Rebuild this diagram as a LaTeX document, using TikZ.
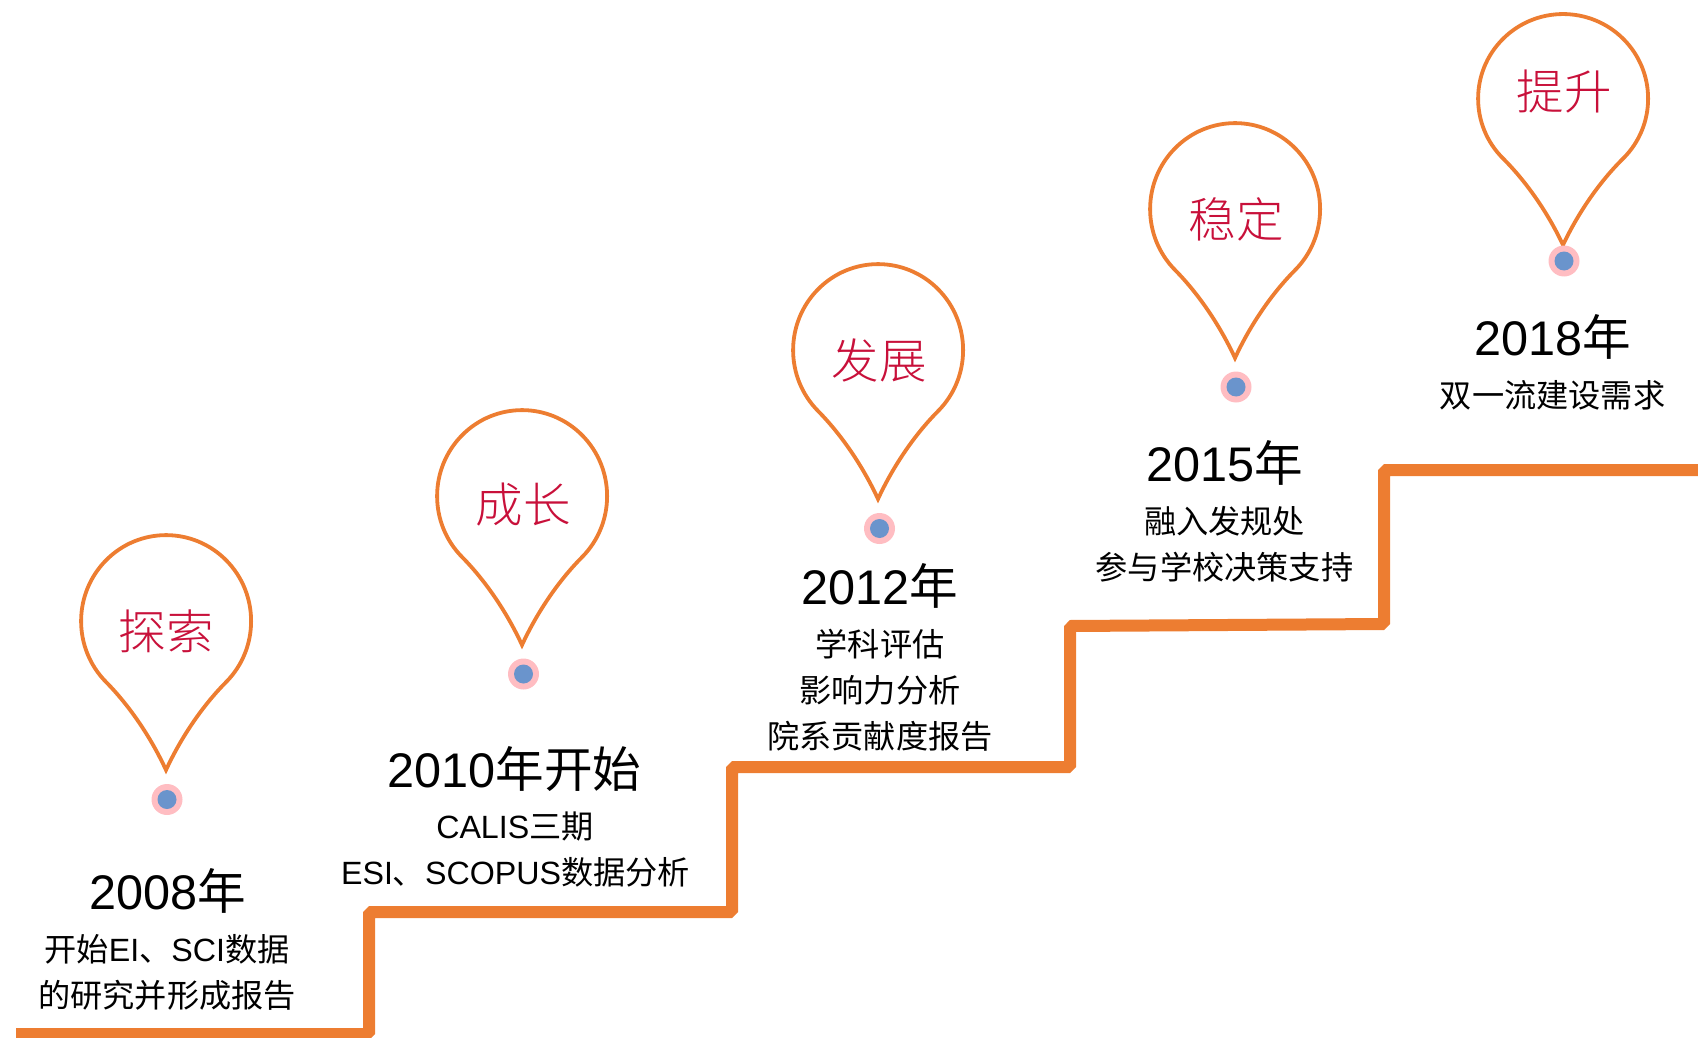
\documentclass[tikz,border=0pt]{standalone}
\usepackage{fontspec}
\setmainfont{Liberation Sans}
\newfontfamily\zhfont{Noto Sans CJK SC}
\newfontfamily\zhlight{Noto Sans CJK SC Light}
\newcommand{\zh}[1]{{\zhfont #1}}
\definecolor{stairorange}{HTML}{ED7D31}
\definecolor{labelred}{HTML}{C8103A}
\definecolor{dotblue}{HTML}{6A94CC}
\definecolor{dotpink}{HTML}{FFBDC2}
\tikzset{
  x=1pt,y=1pt,
  stair/.style={draw=stairorange,line width=12pt,line join=bevel},
  pinline/.style={draw=stairorange,line width=3.8pt,line join=miter},
  pinlabel/.style={inner sep=0pt,text=labelred,font=\fontsize{47.5}{47.5}\selectfont\zhlight},
  yearlabel/.style={inner sep=0pt,text=black,font=\fontsize{48.6}{48.6}\selectfont},
  sublabel/.style={inner sep=0pt,text=black,font=\fontsize{32.2}{32.2}\selectfont},
  dotouter/.style={circle,fill=dotpink,minimum size=31pt,inner sep=0pt},
  dotinner/.style={circle,fill=dotblue,minimum size=19pt,inner sep=0pt},
  pics/droppin/.style={code={
    \path[pinline] (0,0) .. controls (-14,30) and (-35,62) .. (-60,87)
      arc[start angle=225,end angle=-45,radius=85pt]
      .. controls (35,62) and (14,30) .. (0,0) -- cycle;
  }}
}
\begin{document}
\begin{tikzpicture}
\useasboundingbox (0,0) rectangle (1698,-1038);
% staircase
\draw[stair] (16,-1034) -- (369,-1034) -- (369,-912) -- (732,-912) -- (732,-767)
  -- (1070,-767) -- (1070,-626) -- (1384,-624) -- (1384,-470) -- (1698,-470);
% pins
\pic[yscale=1.012] at (166,-770) {droppin};
\pic[yscale=1.012] at (522,-645) {droppin};
\pic[yscale=1.012] at (878,-499) {droppin};
\pic[yscale=1.012] at (1235,-358) {droppin};
\pic[yscale=0.995] at (1563,-245) {droppin};
% dots
\node[dotouter] (o1) at (167,-799.5) {}; \node[dotinner] (i1) at (o1) {};
\node[dotouter] (o2) at (523.5,-674) {}; \node[dotinner] (i2) at (o2) {};
\node[dotouter] (o3) at (879.5,-528.5) {}; \node[dotinner] (i3) at (o3) {};
\node[dotouter] (o4) at (1236,-387) {}; \node[dotinner] (i4) at (o4) {};
\node[dotouter] (o5) at (1564,-261) {}; \node[dotinner] (i5) at (o5) {};
% pin labels
\node[pinlabel] (p1) at (166,-631) {探索};
\node[pinlabel] (p2) at (523,-505) {成长};
\node[pinlabel] (p3) at (879,-360) {发展};
\node[pinlabel] (p4) at (1236,-219) {稳定};
\node[pinlabel] (p5) at (1564,-92) {提升};
% years
\node[yearlabel] (y1) at (167.5,-890.5) {2008\zh{年}};
\node[yearlabel] (y2) at (514.5,-769) {2010\zh{年开始}};
\node[yearlabel] (y3) at (880,-586) {2012\zh{年}};
\node[yearlabel] (y4) at (1225,-463) {2015\zh{年}};
\node[yearlabel] (y5) at (1552.5,-337) {2018\zh{年}};
% sub texts
\node[sublabel] (s11) at (167,-949) {\zh{开始}EI\zh{、}SCI\zh{数据}};
\node[sublabel] (s12) at (167,-995) {\zh{的研究并形成报告}};
\node[sublabel] (s21) at (515,-826.5) {CALIS\zh{三期}};
\node[sublabel] (s22) at (515.5,-872) {ESI\zh{、}SCOPUS\zh{数据分析}};
\node[sublabel] (s31) at (880,-644) {\zh{学科评估}};
\node[sublabel] (s32) at (880,-690) {\zh{影响力分析}};
\node[sublabel] (s33) at (880,-736) {\zh{院系贡献度报告}};
\node[sublabel] (s41) at (1224.5,-521.5) {\zh{融入发规处}};
\node[sublabel] (s42) at (1224.5,-567.5) {\zh{参与学校决策支持}};
\node[sublabel] (s51) at (1552.5,-395.5) {\zh{双一流建设需求}};
\end{tikzpicture}
\end{document}
